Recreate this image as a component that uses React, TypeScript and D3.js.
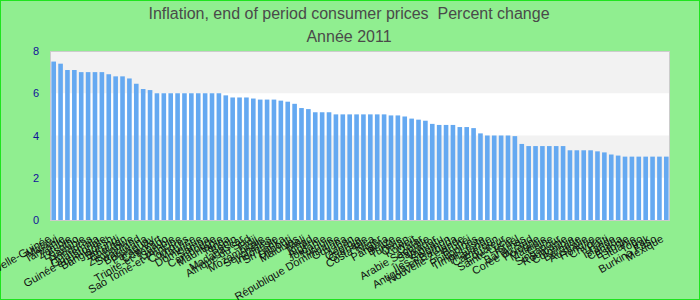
import React from "react";
import * as d3 from "d3";

const title = "Inflation, end of period consumer prices  Percent change";
const subtitle = "Année 2011";

const categories: string[] = [
  "Papouasie-Nouvelle-Guinée", "Malawi", "Tanzanie", "Zambie", "Lesotho",
  "Namibie", "Honduras", "Guatemala", "Guinée équatoriale", "Bangladesh",
  "Burundi", "Bhoutan", "Zimbabwe", "Swaziland", "Botswana",
  "Paraguay", "Cap-Vert", "Trinité-et-Tobago", "Gambie", "Sao Tomé-et-Principe",
  "Comores", "Maurice", "Dominique", "Samoa", "Cambodge",
  "Mauritanie", "Tonga", "Bénin", "Madagascar", "Afrique du Sud",
  "Fidji", "Mozambique", "Seychelles", "Indonésie", "Sri Lanka",
  "Djibouti", "Maldives", "Mali", "Tchad", "Algérie",
  "Jordanie", "Turquie", "République Dominicaine", "Guyana", "Liban",
  "Géorgie", "Grenade", "Costa Rica", "Niger", "Panama",
  "Belize", "Tunisie", "Oman", "Koweït", "Qatar",
  "Arabie Saoudite", "Salvador", "Vanuatu", "Îles Salomon", "Antigua-et-Barbuda",
  "Nouvelle-Zélande", "Brunéi", "Philippines", "Timor-Leste", "Thaïlande",
  "Cameroun", "Équateur", "Sainte-Lucie", "Israël", "Bahamas",
  "Corée du Sud", "Pologne", "Malaisie", "Chine", "Singapour",
  "Roumanie", "Colombie", "Barbade", "Australie", "Hongrie",
  "Chypre", "Haïti", "Islande", "Canada", "Estonie",
  "Lituanie", "Togo", "Irak", "Burkina Faso", "Mexique",
];

const values: number[] = [
  7.5, 7.4, 7.1, 7.1, 7.0,
  7.0, 7.0, 7.0, 6.9, 6.8,
  6.8, 6.7, 6.45, 6.2, 6.15,
  6.0, 6.0, 6.0, 6.0, 6.0,
  6.0, 6.0, 6.0, 6.0, 6.0,
  5.9, 5.8, 5.8, 5.8, 5.75,
  5.7, 5.7, 5.7, 5.65, 5.6,
  5.5, 5.3, 5.25, 5.1, 5.1,
  5.1, 5.0, 5.0, 5.0, 5.0,
  5.0, 5.0, 5.0, 5.0, 4.95,
  4.95, 4.9, 4.8, 4.75, 4.7,
  4.55, 4.5, 4.5, 4.5, 4.4,
  4.4, 4.35, 4.1, 4.0, 4.0,
  4.0, 4.0, 3.97, 3.6, 3.5,
  3.5, 3.5, 3.5, 3.5, 3.5,
  3.3, 3.3, 3.3, 3.3, 3.25,
  3.2, 3.1, 3.05, 3.0, 3.0,
  3.0, 3.0, 3.0, 3.0, 3.0,
];

const yTicks: number[] = [0, 2, 4, 6, 8];
const bandRanges: [number, number][] = [[6, 8], [2, 4]];

const W = 700;
const H = 300;
const FONT = "'Liberation Sans', Arial, Helvetica, sans-serif";

export default function App() {
  const left = 50, right = 670, top = 51, bottom = 220;
  const idx = categories.map((_, i) => String(i));
  const x = d3.scaleBand<string>().domain(idx).range([left, right]).paddingInner(0.33).paddingOuter(0.2);
  const y = d3.scaleLinear().domain([0, 8]).range([bottom, top]);

  return (
    <>
      <style>{"body{margin:0}"}</style>
      <svg width={W} height={H} style={{ display: "block" }} fontFamily={FONT}>
        <rect x={0.5} y={0.5} width={W - 1} height={H - 1} fill="#90EE90" stroke="#1ee41e" strokeWidth={1} />
        <text x={349} y={19} textAnchor="middle" fontSize={16} fill="#4a4a4a" style={{ whiteSpace: "pre" }}>
          {title}
        </text>
        <text x={349} y={42} textAnchor="middle" fontSize={16} fill="#4a4a4a">
          {subtitle}
        </text>
        <rect x={left} y={top} width={right - left} height={bottom - top} fill="#ffffff" />
        {bandRanges.map(([a, b], i) => (
          <rect key={"b" + i} x={left} y={y(b)} width={right - left} height={y(a) - y(b)} fill="#f2f2f2" />
        ))}
        <rect x={left + 0.5} y={top + 0.5} width={right - left - 1} height={bottom - top} fill="none" stroke="#cccccc" strokeWidth={1} />
        {values.map((v, i) => (
          <rect
            key={"r" + i}
            x={x(String(i))}
            y={y(v)}
            width={x.bandwidth()}
            height={y(0) - y(v)}
            fill="#65a9f1"
          />
        ))}
        {yTicks.map((t) => (
          <text key={"t" + t} x={39} y={y(t) + 4} textAnchor="end" fontSize={11} fill="#10109a">
            {t}
          </text>
        ))}
        {categories.map((c, i) => {
          const cx = (x(String(i)) as number) + x.bandwidth() / 2 - 2;
          const cy = 241;
          return (
            <text
              key={"l" + i}
              transform={`translate(${cx},${cy}) rotate(-30)`}
              textAnchor="end"
              fontSize={11}
              fill="#111111"
            >
              {c}
            </text>
          );
        })}
      </svg>
    </>
  );
}
